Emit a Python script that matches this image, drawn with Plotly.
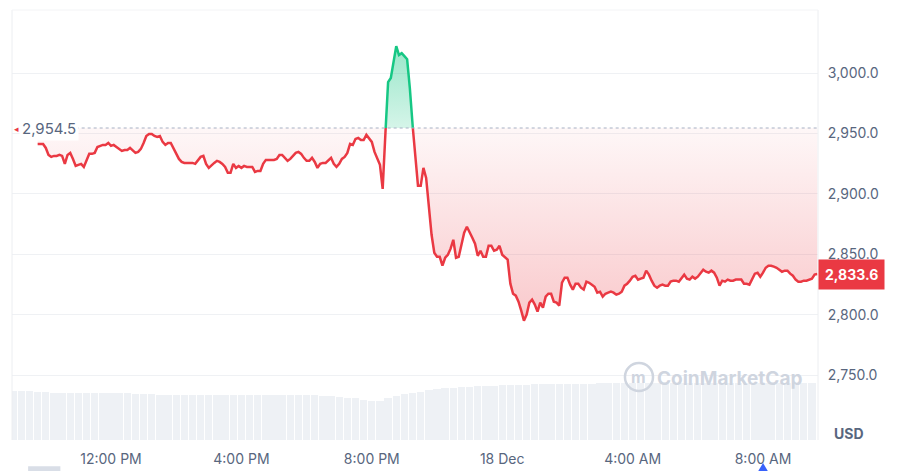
import plotly.graph_objects as go
import pandas as pd

# ---------------- data ----------------
start_time = "2025-12-17 09:45"
interval = "5min"
prices = [
    2941.3, 2941.3, 2941.3, 2938.0, 2932.2, 2930.6, 2931.4, 2931.4, 2932.2, 2931.4,
    2924.8, 2932.2, 2933.9, 2928.9, 2923.1, 2924.0, 2924.8, 2922.3, 2928.1, 2933.1,
    2933.1, 2933.9, 2938.8, 2939.7, 2940.5, 2940.5, 2942.1, 2939.7, 2940.5, 2938.8,
    2937.2, 2935.5, 2936.3, 2936.3, 2938.0, 2935.5, 2933.9, 2934.7, 2937.2, 2942.1,
    2947.9, 2949.6, 2949.6, 2947.9, 2947.1, 2947.9, 2943.0, 2940.5, 2942.1, 2942.1,
    2938.0, 2933.1, 2928.9, 2926.4, 2925.6, 2925.6, 2925.6, 2925.6, 2924.8, 2928.1,
    2930.6, 2931.4, 2924.8, 2921.5, 2924.0, 2925.6, 2927.3, 2926.4, 2924.8, 2922.3,
    2917.4, 2917.4, 2924.8, 2921.5, 2923.1, 2921.5, 2923.1, 2922.3, 2922.3, 2922.3,
    2918.2, 2919.0, 2919.0, 2924.8, 2928.1, 2928.1, 2928.1, 2928.1, 2928.9, 2932.2,
    2932.2, 2929.8, 2927.3, 2928.9, 2931.4, 2933.9, 2934.7, 2933.1, 2929.8, 2927.3,
    2927.3, 2929.8, 2926.4, 2921.5, 2924.8, 2925.6, 2925.6, 2928.1, 2929.8, 2924.8,
    2922.3, 2924.8, 2928.9, 2930.6, 2933.9, 2941.3, 2940.5, 2945.4, 2946.3, 2944.6,
    2944.6, 2948.8, 2945.4, 2943.0, 2934.7, 2928.9, 2924.0, 2904.1, 2950.0, 2992.5,
    2995.9, 3010.7, 3022.3, 3014.9, 3016.5, 3014.0, 3011.5, 2987.6, 2957.0, 2932.2,
    2906.6, 2906.6, 2921.5, 2913.2, 2890.9, 2866.1, 2851.2, 2847.9, 2847.9, 2840.5,
    2847.1, 2849.6, 2854.6, 2862.0, 2847.1, 2847.9, 2857.9, 2867.8, 2872.7, 2868.6,
    2863.6, 2858.7, 2848.7, 2852.9, 2847.9, 2847.9, 2857.0, 2857.0, 2852.9, 2853.7,
    2857.0, 2849.6, 2847.9, 2845.5, 2825.6, 2817.3, 2815.7, 2810.7, 2803.3, 2795.0,
    2800.0, 2809.9, 2812.4, 2808.3, 2802.5, 2809.9, 2805.8, 2814.9, 2817.3, 2817.3,
    2810.7, 2809.9, 2807.4, 2826.4, 2830.6, 2830.6, 2824.8, 2820.7, 2825.6, 2825.6,
    2822.3, 2820.7, 2827.3, 2826.4, 2824.8, 2823.1, 2818.2, 2819.0, 2814.9, 2817.3,
    2818.2, 2819.0, 2818.2, 2816.5, 2817.3, 2819.0, 2824.0, 2825.6, 2828.1, 2831.4,
    2832.2, 2828.9, 2829.8, 2830.6, 2836.4, 2833.1, 2828.1, 2824.0, 2822.3, 2824.0,
    2824.8, 2824.0, 2824.0, 2827.3, 2828.1, 2828.1, 2827.3, 2830.6, 2833.1, 2829.8,
    2829.0, 2831.4, 2829.8, 2831.4, 2834.7, 2837.2, 2835.5, 2834.7, 2836.4, 2834.7,
    2830.6, 2824.0, 2828.1, 2827.3, 2829.0, 2828.1, 2828.1, 2829.0, 2829.0, 2829.0,
    2825.6, 2825.6, 2824.8, 2829.8, 2833.9, 2834.7, 2831.4, 2834.7, 2838.8, 2840.5,
    2840.5, 2839.7, 2838.8, 2837.2, 2835.5, 2836.4, 2836.4, 2833.9, 2832.2, 2829.0,
    2827.3, 2827.3, 2828.1, 2828.1, 2829.0, 2829.8, 2833.1, 2833.6,
]
base_price = 2954.5
base_label = "2,954.5"
last_price = 2833.6
last_label = "2,833.6"

vol_start = "2025-12-17 09:00"
vol_interval = "15min"
volumes = [
    24.5, 24.5, 24.5, 24.0, 23.8,
    23.6, 23.5, 23.5, 23.4, 23.5, 23.5, 23.4, 23.3, 23.4, 23.3, 23.2,
    23.0, 22.8, 22.6, 22.6, 22.5, 22.5, 22.6, 22.5, 22.5, 22.4, 22.5, 22.5,
    22.6, 22.5, 22.4, 22.4, 22.5, 22.4, 22.4, 22.3, 22.4, 22.3, 22.2,
    22.0, 21.5, 21.2, 21.0, 20.0, 19.6, 19.5,
    21.0, 22.0, 22.8, 23.5, 24.0, 24.8, 25.5, 26.0, 26.2, 26.4, 26.6, 26.8,
    27.0, 27.2, 27.4, 27.5, 27.6, 27.7, 27.8, 27.9, 28.0,
    28.1, 28.1, 28.2, 28.2, 28.2, 28.3, 28.3, 28.3, 28.3, 28.4, 28.4, 28.4,
    28.4, 28.4, 28.5, 28.5, 28.5, 28.5, 28.5, 28.5, 28.5, 28.5, 28.5, 28.5,
    28.5, 28.5, 28.5, 28.5, 28.5, 28.5, 28.5, 28.5,
]

y_ticks = [2750, 2800, 2850, 2900, 2950, 3000]
y_tick_labels = ["2,750.0", "2,800.0", "2,850.0", "2,900.0", "2,950.0", "3,000.0"]
x_tick_times = ["2025-12-17 12:00", "2025-12-17 16:00", "2025-12-17 20:00",
                "2025-12-18 00:00", "2025-12-18 04:00", "2025-12-18 08:00"]
x_tick_labels = ["12:00 PM", "4:00 PM", "8:00 PM", "18 Dec", "4:00 AM", "8:00 AM"]
x_range = ["2025-12-17 08:57:47", "2025-12-18 09:41:13"]
y_range = [2696.2, 3052.2]

# ---------------- style ----------------
RED = "#ea3943"
GREEN = "#16c784"
GRAY = "#58667e"
FONT = "Inter"

times = pd.date_range(start_time, periods=len(prices), freq=interval)
vol_times = pd.date_range(vol_start, periods=len(volumes), freq=vol_interval)

# split the series where it crosses the reference price
segments = []
cur_up = prices[0] >= base_price
cur_x, cur_y = [times[0]], [prices[0]]
for i in range(1, len(prices)):
    p0, p1 = prices[i - 1], prices[i]
    up = p1 >= base_price
    if up != cur_up:
        frac = (base_price - p0) / (p1 - p0)
        tc = times[i - 1] + (times[i] - times[i - 1]) * frac
        cur_x.append(tc)
        cur_y.append(base_price)
        segments.append((cur_up, cur_x, cur_y))
        cur_up = up
        cur_x, cur_y = [tc], [base_price]
    cur_x.append(times[i])
    cur_y.append(p1)
segments.append((cur_up, cur_x, cur_y))

fig = go.Figure()

# volume bars
fig.add_trace(go.Bar(
    x=vol_times, y=volumes, yaxis="y2",
    width=15 * 60 * 1000 * 0.9,
    marker=dict(color="#eef1f5", line=dict(width=0)),
    hoverinfo="skip",
))

for up, xs, ys in segments:
    px = list(xs) + list(xs)[::-1]
    py = list(ys) + [base_price] * len(xs)
    if up:
        grad = dict(type="vertical", start=base_price, stop=3025,
                    colorscale=[[0, "rgba(22,199,132,0.18)"], [1, "rgba(22,199,132,0.45)"]])
    else:
        grad = dict(type="vertical", start=2790, stop=base_price,
                    colorscale=[[0, "rgba(234,57,67,0.28)"], [1, "rgba(234,57,67,0.04)"]])
    fig.add_trace(go.Scatter(
        x=px, y=py, fill="toself", mode="lines", line=dict(width=0),
        fillgradient=grad, hoverinfo="skip",
    ))

for up, xs, ys in segments:
    fig.add_trace(go.Scatter(
        x=xs, y=ys, mode="lines",
        line=dict(color=GREEN if up else RED, width=2.5),
        hoverinfo="skip",
    ))

shapes = [
    # reference dotted line
    dict(type="line", xref="paper", yref="y", x0=0.079, x1=1, y0=base_price, y1=base_price,
         line=dict(color="#a6b0c3", width=1, dash="dot")),
    # frame
    dict(type="line", xref="paper", yref="paper", x0=0, x1=0, y0=0, y1=1,
         line=dict(color="#eceef1", width=1)),
    dict(type="line", xref="paper", yref="paper", x0=1, x1=1, y0=0, y1=1,
         line=dict(color="#eceef1", width=1)),
    dict(type="line", xref="paper", yref="paper", x0=0, x1=1, y0=1, y1=1,
         line=dict(color="#f3f4f6", width=1)),
    # watermark logo circle
    dict(type="circle", xref="paper", yref="paper", x0=0.7605, x1=0.7953, y0=0.114, y1=0.179,
         line=dict(color="#cfd5df", width=2.5)),
    # bottom UI remnants
    dict(type="rect", xref="paper", yref="paper", x0=0.02, x1=0.06, y0=-0.073, y1=-0.061,
         fillcolor="#d9dee7", line=dict(width=0)),
    dict(type="path", xref="paper", yref="paper",
         path="M 0.9256 -0.073 L 0.9318 -0.0535 L 0.938 -0.073 Z",
         fillcolor="#3861fb", line=dict(width=0)),
]

annotations = [
    dict(xref="paper", yref="y", x=0.0085, y=base_price, xanchor="left", yanchor="middle",
         text=base_label, showarrow=False, bgcolor="white", borderpad=2,
         font=dict(family=FONT, size=15, color=GRAY)),
    dict(xref="paper", yref="y", x=0.0, y=base_price, xanchor="left", yanchor="middle",
         text="◂", showarrow=False, font=dict(family=FONT, size=9, color=RED)),
    dict(xref="paper", yref="y", x=1.0, y=last_price, xanchor="left", yanchor="middle",
         text="<b>" + last_label + "</b>", showarrow=False, bgcolor=RED, borderpad=6,
         font=dict(family=FONT, size=14, color="white")),
    dict(xref="paper", yref="paper", x=1.0385, y=0.016, xanchor="center", yanchor="middle",
         text="<b>USD</b>", showarrow=False, font=dict(family=FONT, size=14, color=GRAY)),
    dict(xref="paper", yref="paper", x=0.8896, y=0.144, xanchor="center", yanchor="middle",
         text="<b>CoinMarketCap</b>", showarrow=False,
         font=dict(family=FONT, size=19, color="#cfd5df")),
    dict(xref="paper", yref="paper", x=0.7779, y=0.1465, xanchor="center", yanchor="middle",
         text="<b>m</b>", showarrow=False,
         font=dict(family=FONT, size=16, color="#cfd5df")),
]

fig.update_layout(
    width=907, height=471,
    autosize=False,
    margin=dict(l=12, r=89, t=10, b=31, pad=0, autoexpand=False),
    paper_bgcolor="white", plot_bgcolor="white",
    showlegend=False,
    bargap=0,
    xaxis=dict(type="date", range=x_range, tickvals=x_tick_times, ticktext=x_tick_labels,
               showgrid=False, zeroline=False, showline=False, automargin=False,
               ticks="outside", ticklen=6, tickcolor="rgba(0,0,0,0)",
               tickfont=dict(family=FONT, size=14, color=GRAY)),
    yaxis=dict(side="right", range=y_range, tickvals=y_ticks, ticktext=y_tick_labels,
               showgrid=True, gridcolor="#eff1f4", gridwidth=1, zeroline=False, showline=False,
               automargin=False,
               ticks="outside", ticklen=6, tickcolor="rgba(0,0,0,0)",
               tickfont=dict(family=FONT, size=14, color=GRAY)),
    yaxis2=dict(overlaying="y", range=[0, 215], visible=False),
    shapes=shapes,
    annotations=annotations,
)

fig.write_html("out.html", config={"displayModeBar": False},
               post_script="document.body.style.margin='0';")
